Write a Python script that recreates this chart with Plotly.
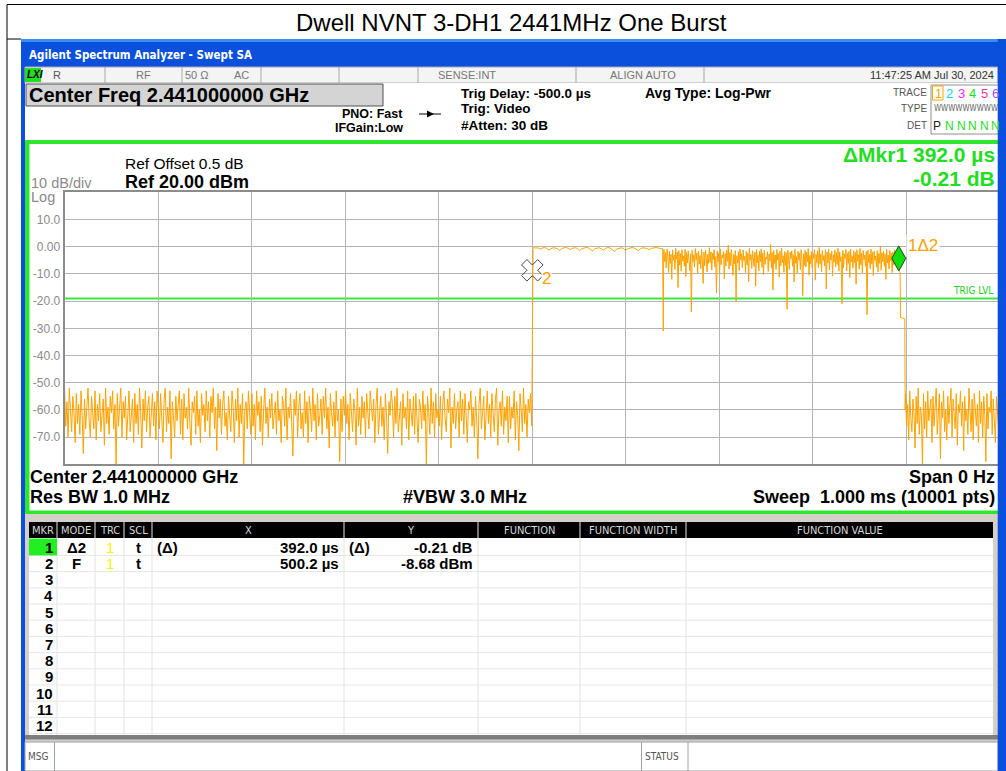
import numpy as np
import plotly.graph_objects as go

W, H = 1006, 771
FONT = "Liberation Sans, Arial, sans-serif"
NARROW = "Liberation Sans Narrow, DejaVu Sans Condensed, Arial Narrow, sans-serif"

# ------------------------------------------------------------------ data
sweep_start_us = 0.0
sweep_stop_us = 1000.0

# noise floor before the burst (0 .. ~499.6 us)
noise_pre_dbm = [
    -53, -66, -57, -70, -52, -63, -68, -55, -61, -72, -54, -65, -58, -69, -53, -62, -76, -56, -67, -59,
    -52, -64, -70, -55, -60, -67, -53, -71, -58, -64, -54, -68, -62, -56, -73, -52, -65, -59, -69, -55,
    -61, -53, -67, -58, -80, -54, -66, -60, -52, -70, -57, -63, -55, -71, -59, -53, -68, -62, -56, -72,
    -54, -65, -58, -69, -52, -61, -74, -56, -64, -53, -68, -59, -55, -70, -62, -54, -66, -57, -71, -53,
    -60, -67, -54, -63, -72, -56, -52, -68, -59, -65, -53, -78, -57, -62, -70, -55, -64, -58, -53, -69,
    -56, -71, -54, -63, -59, -67, -52, -65, -73, -57, -61, -55, -69, -53, -66, -60, -72, -54, -62, -58,
    -68, -53, -64, -57, -70, -55, -61, -52, -67, -59, -75, -54, -63, -56, -69, -58, -53, -66, -61, -71,
    -55, -62, -68, -53, -59, -72, -56, -64, -52, -70, -58, -65, -54, -80, -60, -57, -67, -53, -63, -69,
    -54, -66, -58, -71, -53, -62, -57, -68, -55, -73, -60, -52, -65, -59, -70, -56, -63, -54, -67, -61,
    -57, -69, -53, -64, -60, -72, -55, -58, -66, -52, -71, -59, -63, -54, -68, -77, -56, -62, -53, -70,
    -59, -54, -67, -61, -70, -53, -65, -57, -72, -55, -60, -68, -52, -64, -58, -71, -54, -66, -62, -56,
    -69, -55, -63, -52, -67, -59, -74, -54, -61, -66, -57, -70, -53, -64, -60, -79, -56, -68, -55, -62,
    -53, -65, -58, -71, -54, -62, -68, -56, -60, -73, -52, -66, -59, -69, -55, -63, -57, -70, -54, -61,
    -67, -53, -60, -64, -56, -72, -58, -52, -69, -61, -55, -66, -59, -71, -54, -63, -76, -57, -62, -53,
    -58, -70, -55, -65, -52, -68, -60, -57, -73, -54, -63, -59, -67, -53, -71, -56, -61, -66, -55, -69,
    -54, -62, -72, -56, -59, -67, -53, -64, -58, -80, -55, -61, -69, -52, -65, -57, -70, -54, -63, -60,
    -66, -55, -71, -58, -53, -63, -68, -56, -61, -52, -74, -59, -65, -54, -67, -60, -57, -70, -53, -64,
    -56, -69, -54, -62, -72, -57, -60, -53, -66, -59, -70, -55, -63, -78, -58, -52, -67, -61, -55, -71,
    -62, -53, -65, -58, -70, -54, -61, -68, -56, -52, -73, -60, -57, -66, -53, -69, -59, -64, -55, -72,
    -55, -67, -59, -63, -53, -71, -57, -62, -75, -54, -60, -68, -52, -65, -58, -70, -56, -61, -54, -66,
]
noise_pre_span_us = [0.0, 499.6]

# rising edge of the burst
rise_t_us = [499.8, 500.0, 500.2, 500.6, 501.0]
rise_dbm = [-58.0, -30.0, -8.68, -2.0, -0.5]

# constant-envelope (GFSK) header part
header_dbm = [
    -0.3, -0.5, -0.4, -0.9, -0.5, -0.3, -0.6, -1.2, -0.7, -0.4, -0.5, -0.8, -1.4, -0.6, -0.4,
    -0.3, -0.7, -1.0, -0.5, -0.4, -0.6, -1.5, -0.8, -0.5, -0.3, -0.4, -0.9, -1.6, -0.7, -0.5,
    -0.4, -0.8, -1.2, -0.6, -0.3, -0.5, -1.0, -1.7, -0.9, -0.5, -0.4, -0.6, -1.3, -0.8, -0.4,
    -0.3, -0.5, -0.9, -1.4, -0.7, -0.4, -0.5, -0.8, -1.1, -0.6, -0.4, -0.3, -0.5, -0.7, -0.6,
]
header_span_us = [501.5, 639.6]

# guard gap between header and payload
guard_t_us = [640.0, 640.3, 640.7]
guard_dbm = [-31.0, -31.0, -3.0]

# 8DPSK payload part
payload_dbm = [
    -1.0, -5.5, -2.2, -7.8, -0.8, -4.0, -9.5, -1.6, -6.2, -2.8, -12.0, -1.2, -5.0, -3.1, -8.4, -0.6, -4.6, -2.0, -15.0, -1.4,
    -6.8, -2.5, -9.0, -1.1, -5.3, -3.4, -7.2, -0.9, -11.0, -2.1, -6.0, -1.5, -4.3, -8.8, -2.6, -24.0, -1.3, -5.7, -3.0, -7.5,
    -0.7, -4.9, -2.3, -10.0, -1.6, -6.4, -3.2, -8.1, -1.0, -5.2, -13.5, -2.0, -7.0, -1.2, -4.4, -9.3, -2.7, -6.1, -0.4, -5.8,
    -1.9, -8.6, -2.4, -4.7, -1.1, -7.4, -3.6, -17.0, -1.5, -5.6, -2.2, -9.9, -0.8, -6.6, -3.0, -4.1, -1.7, -11.8, -2.5, -7.1,
    -1.3, -5.4, 0.5, -8.2, -2.1, -6.9, -1.0, -4.5, -10.5, -2.8, -6.3, -1.4, -20.0, -3.3, -5.9, -1.8, -8.7, -0.9, -4.8, -2.6,
    -7.7, -1.2, -5.1, -3.5, -9.6, -1.7, -6.7, -2.3, -12.8, -0.6, -5.0, -2.9, -8.0, -1.5, -4.2, -7.3, -2.0, -14.5, -1.1, -6.0,
    -3.1, -8.9, -1.6, -5.5, -0.8, -7.6, -2.4, -10.2, -1.3, -6.5, -3.8, -4.6, -1.9, -9.1, -2.7, -5.3, 0.8, -7.9, -2.1, -16.0,
    -1.4, -6.2, -3.0, -8.4, -1.0, -4.9, -2.5, -11.2, -1.6, -7.0, -0.5, -5.8, -3.4, -9.4, -1.8, -6.8, -2.2, -23.0, -1.2, -5.2,
    -8.3, -2.0, -4.4, -1.5, -7.2, -2.9, -13.0, -0.9, -6.1, -3.6, -9.8, -1.7, -5.0, -2.3, -8.5, -1.1, -4.7, -18.0, -2.6, -6.9,
    -1.3, -7.5, -2.1, -5.6, -0.7, -10.4, -3.2, -6.3, -1.8, -8.0, -2.4, -4.3, -1.0, -12.3, -2.8, -5.9, -1.5, -7.8, -0.3, -6.4,
    -2.7, -9.2, -1.4, -5.1, -3.3, -7.1, -1.1, -15.5, -2.0, -6.0, -0.8, -8.6, -2.5, -4.9, -1.6, -10.8, -3.0, -5.7, -1.2, -7.4,
    -2.2, -6.5, -0.6, -9.0, -1.9, -5.4, -3.7, -21.0, -1.3, -7.7, -2.6, -4.5, -1.0, -8.9, -2.3, -6.2, -1.7, -11.4, -0.9, -5.6,
    -3.5, -7.9, -1.5, -6.0, -2.1, -13.8, -1.1, -5.3, -2.9, -8.3, -0.7, -6.7, -2.4, -9.7, -1.4, -4.8, -3.1, -7.2, -1.8, -25.0,
    -1.2, -5.9, -2.8, -8.1, -0.9, -6.4, -2.0, -10.6, -1.6, -5.0, -3.4, -7.5, -1.3, -9.3, -2.5, -6.1, 0.3, -8.7, -2.2, -5.5,
    -1.7, -7.3, -2.6, -12.0, -1.0, -6.0, -3.1, -8.2, -1.4, -5.2, -2.3, -9.5, -1.9, -6.8, -1.1, -4.6, -2.7, -7.0, -1.5, -3.8,
]
payload_span_us = [641.0, 891.8]

# falling edge of the burst
fall_t_us = [892.2, 893.6, 894.0, 898.6, 899.0]
fall_dbm = [-8.89, -9.5, -26.0, -26.5, -60.0]

# noise floor after the burst
noise_post_dbm = [
    -54, -66, -58, -71, -53, -63, -68, -56, -61, -74, -55, -65, -52, -69, -59, -62, -80, -54, -67, -57,
    -70, -53, -64, -60, -56, -72, -55, -66, -58, -52, -69, -61, -54, -78, -57, -63, -53, -68, -60, -71,
    -55, -65, -59, -52, -70, -56, -62, -67, -54, -73, -58, -61, -53, -66, -57, -75, -55, -64, -60, -69,
    -52, -63, -68, -56, -71, -54, -60, -66, -58, -72, -53, -65, -57, -70, -55, -62, -79, -54, -67, -59,
    -61, -53, -69, -56, -64, -72, -55, -60, -66, -58,
]
noise_post_span_us = [899.4, 1000.0]

# markers
mkr2_t_us, mkr2_dbm = 500.2, -8.68          # fixed marker 2
mkr1_dt_us, mkr1_ddb = 392.0, -0.21          # delta marker 1 relative to 2
trig_level_dbm = -19.0

y_tick_vals = [10, 0, -10, -20, -30, -40, -50, -60, -70]
y_tick_text = ["10.0", "0.00", "-10.0", "-20.0", "-30.0", "-40.0", "-50.0", "-60.0", "-70.0"]

table_cols = ["MKR", "MODE", "TRC", "SCL", "X", "Y", "FUNCTION", "FUNCTION WIDTH", "FUNCTION VALUE"]
table_rows = [
    ["1", "Δ2", "1", "t", "(Δ)", "392.0 µs", "(Δ)", "-0.21 dB"],
    ["2", "F", "1", "t", "", "500.2 µs", "", "-8.68 dBm"],
]

# ------------------------------------------------------------------ trace assembly
t_all = np.concatenate([
    np.linspace(noise_pre_span_us[0], noise_pre_span_us[1], len(noise_pre_dbm)),
    rise_t_us,
    np.linspace(header_span_us[0], header_span_us[1], len(header_dbm)),
    guard_t_us,
    np.linspace(payload_span_us[0], payload_span_us[1], len(payload_dbm)),
    fall_t_us,
    np.linspace(noise_post_span_us[0], noise_post_span_us[1], len(noise_post_dbm)),
])
v_all = np.concatenate([noise_pre_dbm, rise_dbm, header_dbm, guard_dbm, payload_dbm, fall_dbm, noise_post_dbm])

# ------------------------------------------------------------------ helpers
shapes = []
annotations = []


def R(x0, y0, x1, y1, fill, line=None, lw=1, layer="below"):
    shapes.append(dict(type="rect", xref="paper", yref="paper",
                       x0=x0 / W, x1=x1 / W, y0=1 - y1 / H, y1=1 - y0 / H,
                       fillcolor=fill, layer=layer,
                       line=dict(color=line if line else "rgba(0,0,0,0)", width=lw if line else 0)))


def L(x0, y0, x1, y1, color, w=1, layer="below"):
    shapes.append(dict(type="line", xref="paper", yref="paper",
                       x0=x0 / W, x1=x1 / W, y0=1 - y0 / H, y1=1 - y1 / H,
                       line=dict(color=color, width=w), layer=layer))


def T(x, y, s, size=12, color="black", anchor="left", bold=False, family=FONT, bg=None):
    a = dict(xref="paper", yref="paper", x=x / W, y=1 - y / H, xanchor=anchor, yanchor="middle",
             text=("<b>%s</b>" % s) if bold else s, showarrow=False,
             font=dict(size=size, color=color, family=family), borderpad=0)
    if bg:
        a["bgcolor"] = bg
    annotations.append(a)


# ------------------------------------------------------------------ outer frame + title
L(7, 4.5, 1006, 4.5, "black", 1)
L(7, 4.5, 7, 771, "black", 1)
L(7, 39, 21, 39, "black", 1)
T(512, 22, "Dwell NVNT 3-DH1 2441MHz One Burst", size=24, color="black", anchor="center")

# window frame (blue)
R(21, 39, 1006, 771, "#0A50DC")
R(21, 39, 1006, 42, "#3C8CF8")
T(28, 55, "Agilent Spectrum Analyzer - Swept SA", size=11.5, color="white", bold=True,
  family="DejaVu Sans Condensed, Liberation Sans, sans-serif")

# status strip
R(25, 67, 998, 83, "#F4F4F4", "#A8A8A8")
R(25, 68, 41, 82, "#22DD22")
T(26, 75, "<i>LXI</i>", size=10, color="black", bold=True)
for xs in [105, 182, 261, 339, 418, 576, 704]:
    L(xs, 67, xs, 83, "#A8A8A8")
T(52, 75, "R", size=11, color="#555555")
T(143, 75, "RF", size=11, color="#777777", anchor="center")
T(197, 75, "50 Ω", size=11, color="#777777", anchor="center")
T(241, 75, "AC", size=11, color="#777777", anchor="center")
T(497, 75, "SENSE:INT", size=11, color="#777777", anchor="right")
T(643, 75, "ALIGN AUTO", size=11, color="#777777", anchor="center")
T(869, 75, "11:47:25 AM Jul 30, 2024", size=11, color="#333333")

# settings area
R(25, 83, 998, 140, "#FFFFFF")
R(26, 84, 383, 106, "#D4D4D4", "#505050", 1)
T(28, 95, "Center Freq 2.441000000 GHz", size=20, bold=True)
T(341, 114, "PNO: Fast", size=12.5, bold=True)
T(334, 128, "IFGain:Low", size=12.5, bold=True)
L(419, 114, 441, 114, "black", 1)
shapes.append(dict(type="path", xref="paper", yref="paper",
                   path="M %f,%f L %f,%f L %f,%f Z" % (427 / W, 1 - 110.5 / H, 434 / W, 1 - 114 / H, 427 / W, 1 - 117.5 / H),
                   fillcolor="black", line=dict(width=0), layer="below"))
T(460, 93, "Trig Delay: -500.0 µs", size=13.5, bold=True)
T(460, 109, "Trig: Video", size=13.5, bold=True)
T(460, 126, "#Atten: 30 dB", size=13.5, bold=True)
T(644, 93, "Avg Type: Log-Pwr", size=14, bold=True)
T(928, 92, "TRACE", size=10, color="#555555", anchor="right")
T(928, 109, "TYPE", size=10, color="#555555", anchor="right")
T(928, 126, "DET", size=10, color="#555555", anchor="right")
R(931, 85, 1000, 134, "#FFFFFF", "#909090", 1)
R(932.5, 86, 943, 100, "#FFFFFF", "#FFA500", 1)
for xc, s, c in [(938, "1", "#FFA500"), (949.5, "2", "#00D8F0"), (961, "3", "#FF22FF"),
                 (972.5, "4", "#22DD22"), (984, "5", "#FF3399"), (995.5, "6", "#9955FF")]:
    T(xc, 93, s, size=13, color=c, anchor="center")
T(933, 109, "WWWWWWWWW", size=8, color="#666666", family=NARROW)
T(937, 126, "P", size=12, color="#222222", anchor="center")
for xc in [949.5, 961, 972.5, 984, 995.5]:
    T(xc, 126, "N", size=12, color="#22DD22", anchor="center")

# graph panel with green border
R(25, 140, 998, 514, "#2EE62E")
R(29.5, 144, 998, 510.5, "#FFFFFF")
T(124, 163, "Ref Offset 0.5 dB", size=15.5, color="black")
T(124, 182, "Ref 20.00 dBm", size=18, bold=True)
T(30, 183, "10 dB/div", size=14.5, color="#8A8A8A")
T(30, 197, "Log", size=14.5, color="#8A8A8A")
T(996, 155, "ΔMkr1 392.0 µs", size=21, color="#22DD22", bold=True, anchor="right")
T(996, 178, "-0.21 dB", size=21, color="#22DD22", bold=True, anchor="right")
T(29, 477, "Center 2.441000000 GHz", size=18, bold=True)
T(29, 497, "Res BW 1.0 MHz", size=18, bold=True)
T(528, 497, "#VBW 3.0 MHz", size=18, bold=True, anchor="right")
T(996, 477, "Span 0 Hz", size=18, bold=True, anchor="right")
T(996, 497, "Sweep  1.000 ms (10001 pts)", size=18, bold=True, anchor="right")

# marker table
R(25, 514, 998, 742, "#D4D0C8")
R(29, 522, 993, 735, "#FFFFFF")
R(29, 522, 993, 538, "#000000")
col_edges = [29, 57, 95, 124, 152, 344, 478, 580, 686, 993]
for i, name in enumerate(table_cols):
    T((col_edges[i] + col_edges[i + 1]) / 2, 530, name, size=11, color="#D8D8D8", anchor="center", family=NARROW)
for xs in col_edges[1:-1]:
    L(xs, 522, xs, 538, "#9A9A9A", 1.5)
    L(xs, 538, xs, 735, "#E2E2E2", 1)
row_h = 16.2
row0 = 547.3
for k in range(12):
    yb = row0 + row_h / 2 + k * row_h
    L(29, yb, 993, yb, "#E6E6E6", 1)
R(29, 538.5, 57, 555.4, "#22EE22")
for k in range(12):
    T(54, row0 + k * row_h, str(k + 1), size=15, bold=True, anchor="right")
for k, row in enumerate(table_rows):
    yy = row0 + k * row_h
    T(76, yy, row[1], size=15, bold=True, anchor="center")
    T(110, yy, row[2], size=15, color="#F4F400", anchor="center")
    T(138, yy, row[3], size=15, bold=True, anchor="center")
    if row[4]:
        T(156, yy, row[4], size=15, bold=True)
    T(340, yy, row[5], size=15, bold=True, anchor="right")
    if row[6]:
        T(348, yy, row[6], size=15, bold=True)
    T(474, yy, row[7], size=15, bold=True, anchor="right")
R(25, 735, 998, 739.5, "#7E7E7E")
R(25, 742, 998, 771, "#FFFFFF", "#A0A0A0", 1)
for xs in [54.5, 641.5, 688]:
    L(xs, 742, xs, 771, "#A0A0A0", 1)
T(27, 756, "MSG", size=10, color="#555555", family=NARROW)
T(644, 756, "STATUS", size=10, color="#555555", family=NARROW)

# right window border drawn on top (screenshot is cut there)
R(997.7, 39, 1006, 771, "#0A50DC", layer="above")

# ------------------------------------------------------------------ figure
fig = go.Figure()
fig.add_trace(go.Scatter(x=t_all, y=v_all, mode="lines", line=dict(color="#FFA200", width=1),
                         hoverinfo="skip"))
# fixed marker 2
fig.add_trace(go.Scatter(x=[mkr2_t_us], y=[mkr2_dbm], mode="markers",
                         marker=dict(symbol="x-open", size=19, color="#454545", line=dict(width=1, color="#454545")),
                         hoverinfo="skip"))

# trigger level line
shapes.append(dict(type="line", xref="x", yref="y", x0=sweep_start_us, x1=sweep_stop_us,
                   y0=trig_level_dbm, y1=trig_level_dbm, line=dict(color="#3AE83A", width=2), layer="below"))
annotations.append(dict(xref="paper", yref="y", x=995 / W, y=trig_level_dbm, yshift=8, xanchor="right",
                        yanchor="middle", text="TRIG LVL", showarrow=False,
                        font=dict(size=10, color="#22CC22", family=NARROW)))

# delta marker 1 (green tall diamond sitting on the trace)
m1_t = mkr2_t_us + mkr1_dt_us
m1_v = mkr2_dbm + mkr1_ddb
shapes.append(dict(type="path", xref="x", yref="y", xsizemode="pixel", ysizemode="pixel",
                   xanchor=m1_t, yanchor=m1_v, path="M0,0 L7,12.5 L0,25 L-7,12.5 Z",
                   fillcolor="#11DD11", line=dict(color="#1A4A1A", width=1), layer="above"))
annotations.append(dict(xref="x", yref="y", x=m1_t, y=m1_v, xshift=24, yshift=25, text="1Δ2",
                        showarrow=False, bgcolor="white", borderpad=1,
                        font=dict(size=17, color="#FFA200", family=FONT)))
annotations.append(dict(xref="x", yref="y", x=mkr2_t_us, y=mkr2_dbm, xshift=14, yshift=-8, text="2",
                        showarrow=False, bgcolor="white", borderpad=0,
                        font=dict(size=17, color="#FFA200", family=FONT)))

fig.update_layout(
    width=W, height=H, margin=dict(l=0, r=0, t=0, b=0),
    paper_bgcolor="white", plot_bgcolor="white", showlegend=False,
    shapes=shapes, annotations=annotations,
    xaxis=dict(range=[sweep_start_us, sweep_stop_us], domain=[64.6 / W, 999.6 / W],
               dtick=100, tick0=0, showgrid=True, gridcolor="#B4B4B4", gridwidth=1,
               showticklabels=False, ticks="", zeroline=False,
               showline=True, linecolor="#8C8C8C", linewidth=2, mirror=True, fixedrange=True),
    yaxis=dict(range=[-80, 20], domain=[1 - 464.3 / H, 1 - 192.3 / H],
               tickmode="array", tickvals=y_tick_vals, ticktext=y_tick_text,
               tickfont=dict(size=12, color="#8A8A8A", family=FONT),
               showgrid=True, gridcolor="#B4B4B4", gridwidth=1, ticks="", zeroline=False,
               showline=True, linecolor="#8C8C8C", linewidth=2, mirror=True, fixedrange=True),
)

fig.write_html("out.html", config={"displayModeBar": False},
               post_script="document.body.style.margin='0';document.body.style.overflow='hidden';")
